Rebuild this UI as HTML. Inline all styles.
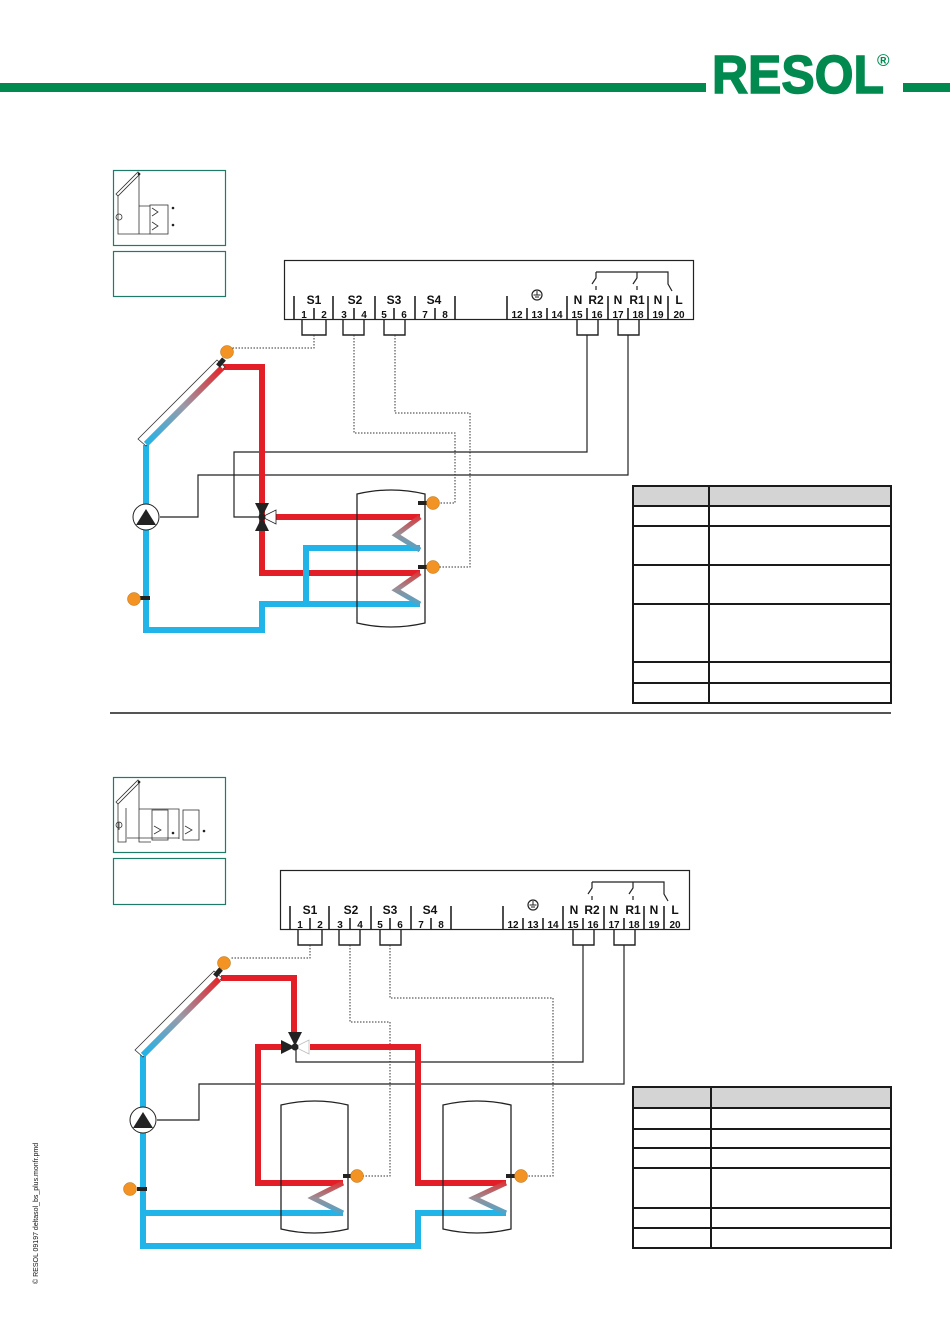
<!DOCTYPE html>
<html><head><meta charset="utf-8"><style>
html,body{margin:0;padding:0;background:#fff}
svg{display:block}
text{font-family:"Liberation Sans",sans-serif;fill:#111}
</style></head><body>
<svg width="950" height="1344" viewBox="0 0 950 1344" xmlns="http://www.w3.org/2000/svg">
<defs>
<linearGradient id="col" x1="0" y1="1" x2="1" y2="0">
<stop offset="0" stop-color="#22b3e6"/><stop offset="0.5" stop-color="#9a9aa8"/><stop offset="1" stop-color="#e2262c"/>
</linearGradient>
<linearGradient id="coil" x1="0" y1="0" x2="0" y2="1">
<stop offset="0" stop-color="#d9373a"/><stop offset="0.5" stop-color="#9a8f96"/><stop offset="1" stop-color="#4aa6cc"/>
</linearGradient>
<g id="ctrl">
<rect x="284.5" y="260.5" width="409" height="59" fill="#fff" stroke="#222" stroke-width="1.2"/>
<g stroke="#222" stroke-width="1.6">
<line x1="294" y1="296" x2="294" y2="320"/><line x1="333" y1="296" x2="333" y2="320"/><line x1="375" y1="296" x2="375" y2="320"/><line x1="415" y1="296" x2="415" y2="320"/><line x1="455" y1="296" x2="455" y2="320"/><line x1="507" y1="296" x2="507" y2="320"/><line x1="567" y1="296" x2="567" y2="320"/><line x1="608" y1="296" x2="608" y2="320"/><line x1="648" y1="296" x2="648" y2="320"/><line x1="668" y1="296" x2="668" y2="320"/>
<line x1="314" y1="308" x2="314" y2="320"/><line x1="354" y1="308" x2="354" y2="320"/><line x1="394" y1="308" x2="394" y2="320"/><line x1="435" y1="308" x2="435" y2="320"/><line x1="527" y1="308" x2="527" y2="320"/><line x1="547" y1="308" x2="547" y2="320"/><line x1="587" y1="308" x2="587" y2="320"/><line x1="628" y1="308" x2="628" y2="320"/>
</g>
<g font-size="12" font-weight="bold" text-anchor="middle">
<text x="314" y="304">S1</text><text x="355" y="304">S2</text><text x="394" y="304">S3</text><text x="434" y="304">S4</text>
<text x="578" y="304">N</text><text x="596" y="304">R2</text><text x="618" y="304">N</text><text x="637" y="304">R1</text><text x="658" y="304">N</text><text x="679" y="304">L</text>
</g>
<g font-size="10" font-weight="bold" text-anchor="middle">
<text x="304" y="318">1</text><text x="324" y="318">2</text><text x="344" y="318">3</text><text x="364" y="318">4</text><text x="384" y="318">5</text><text x="404" y="318">6</text><text x="425" y="318">7</text><text x="445" y="318">8</text>
<text x="517" y="318">12</text><text x="537" y="318">13</text><text x="557" y="318">14</text><text x="577" y="318">15</text><text x="597" y="318">16</text><text x="618" y="318">17</text><text x="638" y="318">18</text><text x="658" y="318">19</text><text x="679" y="318">20</text>
</g>
<circle cx="537" cy="295" r="5" fill="none" stroke="#222" stroke-width="1.2"/>
<path d="M537 291v4M533.5 295h7M535 297h4" stroke="#222" stroke-width="1"/>
<path d="M596 272h72v12l4 7M596 272v6l-4 6M596 286v4M637 272v6l-4 6M637 286v4" fill="none" stroke="#222" stroke-width="1.2"/>
<path d="M302 320v15h24v-15M343 320v15h21v-15M384 320v15h21v-15M577 320v15h21v-15M618 320v15h21v-15" fill="none" stroke="#222" stroke-width="1.4"/>
</g>
<g id="sens"><circle r="6.5" fill="#f39323" stroke="#b56a10" stroke-width="0.5"/></g>
</defs>

<rect x="0" y="83" width="706" height="9" fill="#008a4f"/>
<rect x="903" y="83" width="47" height="9" fill="#008a4f"/>
<text x="712" y="93" font-size="54" font-weight="bold" stroke="#008a4f" stroke-width="1.5" style="fill:#008a4f" textLength="172" lengthAdjust="spacingAndGlyphs">RESOL</text>
<text x="877" y="66" font-size="17" font-weight="bold" style="fill:#008a4f">®</text>

<!-- SECTION 1 -->
<rect x="113.5" y="170.5" width="112" height="75" fill="none" stroke="#1f7a68" stroke-width="1.2"/>
<rect x="113.5" y="251.5" width="112" height="45" fill="none" stroke="#1f7a68" stroke-width="1.2"/>
<g stroke="#333" stroke-width="0.8" fill="none">
<path d="M116 194l22-22 2 2-22 22z"/><path d="M139 174v60h11M118 196v38h32M139 206h11"/>
<rect x="150" y="205" width="18" height="29"/>
<path d="M152 208l6 4-6 4M152 222l6 4-6 4"/><circle cx="119" cy="217" r="3"/>
</g>
<circle cx="139" cy="174" r="1.3" fill="#222"/><circle cx="173" cy="208" r="1.3" fill="#222"/><circle cx="173" cy="225" r="1.3" fill="#222"/>

<use href="#ctrl"/>

<g fill="none" stroke="#333" stroke-width="1" stroke-dasharray="1.5,1.5">
<path d="M314 335v13h-82"/>
<path d="M354 335v98h101v70h-16"/>
<path d="M395 335v78h75v154h-31"/>
</g>
<g fill="none" stroke="#222" stroke-width="1.2">
<path d="M587 335v117h-353v65h26"/>
<path d="M628 335v140h-430v42h-38"/>
</g>
<g fill="none" stroke-width="6">
<path d="M223 367h39v206h158" stroke="#e41e26"/>
<path d="M270 517h150" stroke="#e41e26"/>
<path d="M146 445v185h116v-26h158M306 604v-56h114" stroke="#20b4e8"/>
<path d="M420 517l-24 18 24 15" stroke="url(#coil)" stroke-width="5"/>
<path d="M420 573l-24 17 24 14" stroke="url(#coil)" stroke-width="5"/>
</g>
<path d="M138 439l79-79 8 7-79 79z" fill="#fff" stroke="#333" stroke-width="0.8"/>
<line x1="146" y1="444" x2="222" y2="368" stroke="url(#col)" stroke-width="6"/>
<line x1="218" y1="366" x2="224" y2="359" stroke="#222" stroke-width="5"/>
<use href="#sens" x="227" y="352"/>
<path d="M255 503h14l-7 14zM255 531h14l-7-14z" fill="#222"/>
<path d="M262 517l14-7v14z" fill="#fff" stroke="#222" stroke-width="0.8"/>
<circle cx="262" cy="517" r="3.5" fill="#222"/>
<circle cx="146" cy="517" r="13" fill="#fff" stroke="#222" stroke-width="1"/>
<path d="M136 525l10-16 10 16z" fill="#222"/>
<rect x="140" y="596" width="10" height="4" fill="#222"/><use href="#sens" x="134" y="599"/>
<path d="M357 494q34-8 68 0v129q-34 8-68 0z" fill="none" stroke="#222" stroke-width="1.3"/>
<rect x="418" y="501" width="10" height="4" fill="#222"/><use href="#sens" x="433" y="503"/>
<rect x="418" y="565" width="10" height="4" fill="#222"/><use href="#sens" x="433" y="567"/>

<rect x="633" y="486" width="258" height="20" fill="#d4d4d4"/>
<g stroke="#1a1a1a" stroke-width="2" fill="none">
<rect x="633" y="486" width="258" height="217"/>
<line x1="709" y1="486" x2="709" y2="703"/>
<line x1="633" y1="506" x2="891" y2="506"/><line x1="633" y1="526" x2="891" y2="526"/><line x1="633" y1="565" x2="891" y2="565"/><line x1="633" y1="604" x2="891" y2="604"/><line x1="633" y1="662" x2="891" y2="662"/><line x1="633" y1="683" x2="891" y2="683"/>
</g>
<line x1="110" y1="713" x2="891" y2="713" stroke="#555" stroke-width="2"/>

<!-- SECTION 2 -->
<rect x="113.5" y="777.5" width="112" height="75" fill="none" stroke="#1f7a68" stroke-width="1.2"/>
<rect x="113.5" y="858.5" width="112" height="46" fill="none" stroke="#1f7a68" stroke-width="1.2"/>
<g stroke="#333" stroke-width="0.8" fill="none">
<path d="M116 802l22-22 2 2-22 22z"/><path d="M139 782v60h12M118 804v38h8v-34M119 830v-8M127 838h52M139 809h40v30"/>
<rect x="152" y="810" width="16" height="30"/><rect x="183" y="810" width="16" height="30"/>
<path d="M154 826l7 4-7 4M185 826l7 4-7 4"/><circle cx="119" cy="825" r="3"/>
</g>
<circle cx="139" cy="782" r="1.3" fill="#222"/><circle cx="173" cy="833" r="1.3" fill="#222"/><circle cx="204" cy="831" r="1.3" fill="#222"/>

<use href="#ctrl" transform="translate(-4,610)"/>

<g fill="none" stroke="#333" stroke-width="1" stroke-dasharray="1.5,1.5">
<path d="M310 945v13h-80"/>
<path d="M350 945v77h40v154h-28"/>
<path d="M390 945v53h163v178h-26"/>
</g>
<g fill="none" stroke="#222" stroke-width="1.2">
<path d="M583 945v117h-287v-15"/>
<path d="M624 945v139h-425v36h-42"/>
</g>
<g fill="none" stroke-width="6">
<path d="M221 978h73v60" stroke="#e41e26"/>
<path d="M284 1047h-26v136h85M310 1047h108v136h88" stroke="#e41e26"/>
<path d="M143 1055v191h275v-33h88M143 1213h200" stroke="#20b4e8"/>
<path d="M343 1183l-30 15 30 15" stroke="url(#coil)" stroke-width="5"/>
<path d="M506 1183l-32 15 32 15" stroke="url(#coil)" stroke-width="5"/>
</g>
<path d="M135 1050l79-79 8 7-79 79z" fill="#fff" stroke="#333" stroke-width="0.8"/>
<line x1="143" y1="1055" x2="219" y2="979" stroke="url(#col)" stroke-width="6"/>
<line x1="215" y1="976" x2="221" y2="969" stroke="#222" stroke-width="5"/>
<use href="#sens" x="224" y="963"/>
<path d="M288 1032h14l-7 14z" fill="#222"/>
<path d="M281 1040v14l14-7z" fill="#222"/>
<path d="M309 1040v14l-14-7z" fill="#fff" stroke="#bbb" stroke-width="0.8"/>
<circle cx="295" cy="1047" r="3.5" fill="#222"/>
<circle cx="143" cy="1120" r="13" fill="#fff" stroke="#222" stroke-width="1"/>
<path d="M133 1128l10-16 10 16z" fill="#222"/>
<rect x="137" y="1187" width="10" height="4" fill="#222"/><use href="#sens" x="130" y="1189"/>
<path d="M281 1105q34-8 67 0v124q-34 8-67 0z" fill="none" stroke="#222" stroke-width="1.3"/>
<path d="M443 1105q34-8 68 0v124q-34 8-68 0z" fill="none" stroke="#222" stroke-width="1.3"/>
<rect x="343" y="1174" width="10" height="4" fill="#222"/><use href="#sens" x="357" y="1176"/>
<rect x="506" y="1174" width="10" height="4" fill="#222"/><use href="#sens" x="521" y="1176"/>

<rect x="633" y="1087" width="258" height="21" fill="#d4d4d4"/>
<g stroke="#1a1a1a" stroke-width="2" fill="none">
<rect x="633" y="1087" width="258" height="161"/>
<line x1="711" y1="1087" x2="711" y2="1248"/>
<line x1="633" y1="1108" x2="891" y2="1108"/><line x1="633" y1="1129" x2="891" y2="1129"/><line x1="633" y1="1148" x2="891" y2="1148"/><line x1="633" y1="1168" x2="891" y2="1168"/><line x1="633" y1="1208" x2="891" y2="1208"/><line x1="633" y1="1228" x2="891" y2="1228"/>
</g>

<text transform="translate(38,1284) rotate(-90)" font-size="7">© RESOL 09197 deltasol_bs_plus.monfr.pmd</text>
</svg>
</body></html>
